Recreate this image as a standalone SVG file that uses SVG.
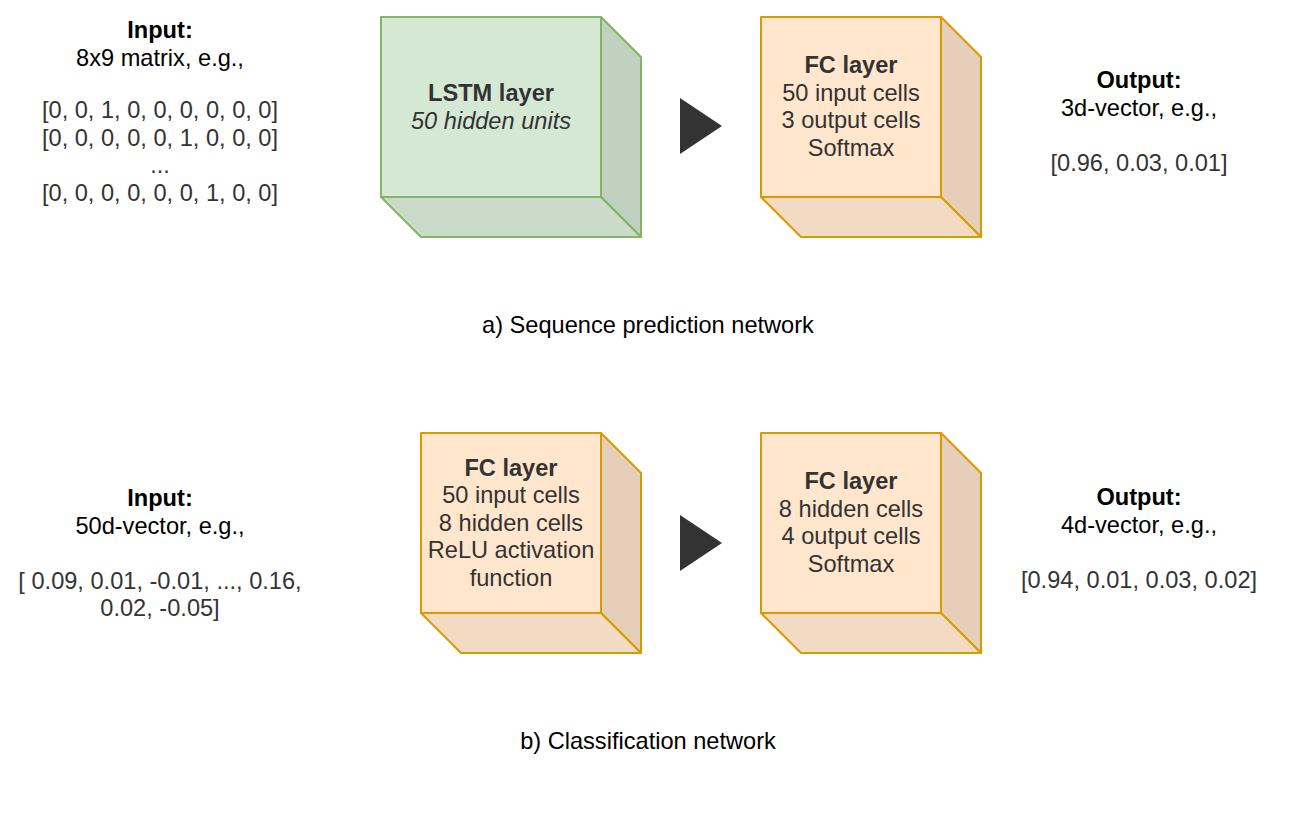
<svg xmlns="http://www.w3.org/2000/svg" width="1302" height="816" viewBox="0 0 1302 816">
<style>
text{font-family:"Liberation Sans",Arial,Helvetica,sans-serif;font-size:23.6px;text-anchor:middle}
.b{font-weight:bold}
.i{font-style:italic}
.k{fill:#000}
.g{fill:#333}
.gf{fill:#d5e8d4;stroke:#82b366;stroke-width:2;stroke-linejoin:round}
.gr{fill:#c0d1bf;stroke:#82b366;stroke-width:2;stroke-linejoin:round}
.gb{fill:#cadcc9;stroke:#82b366;stroke-width:2;stroke-linejoin:round}
.of{fill:#ffe6cc;stroke:#d79b00;stroke-width:2;stroke-linejoin:round}
.or{fill:#e6cfb8;stroke:#d79b00;stroke-width:2;stroke-linejoin:round}
.ob{fill:#f2dbc2;stroke:#d79b00;stroke-width:2;stroke-linejoin:round}
.arr{fill:#333}
</style>
<defs>
<g id="cubeO">
<polygon class="or" points="180,0 220,40 220,220 180,180"/>
<polygon class="ob" points="0,180 180,180 220,220 40,220"/>
<rect class="of" x="0" y="0" width="180" height="180"/>
</g>
</defs>
<rect width="1302" height="816" fill="#fff"/>

<g id="input-a">
<text x="160" y="38" class="b k">Input:</text>
<text x="160" y="65.6" class="k">8x9 matrix, e.g.,</text>
<text x="160" y="118" class="g">[0, 0, 1, 0, 0, 0, 0, 0, 0]</text>
<text x="160" y="145.6" class="g">[0, 0, 0, 0, 0, 1, 0, 0, 0]</text>
<text x="160" y="173.2" class="g">...</text>
<text x="160" y="200.8" class="g">[0, 0, 0, 0, 0, 0, 1, 0, 0]</text>
</g>

<g id="lstm">
<polygon class="gr" points="601,17 641,57 641,237 601,197"/>
<polygon class="gb" points="381,197 601,197 641,237 421,237"/>
<rect class="gf" x="381" y="17" width="220" height="180"/>
<text x="491" y="101.4" class="b g">LSTM layer</text>
<text x="491" y="129" class="i g">50 hidden units</text>
</g>

<g id="fc-a">
<use href="#cubeO" x="761" y="17"/>
<text x="851" y="73" class="b g">FC layer</text>
<text x="851" y="100.6" class="g">50 input cells</text>
<text x="851" y="128.2" class="g">3 output cells</text>
<text x="851" y="155.8" class="g">Softmax</text>
</g>

<g id="output-a">
<text x="1139" y="88" class="b k">Output:</text>
<text x="1139" y="115.6" class="k">3d-vector, e.g.,</text>
<text x="1139" y="170.8" class="g">[0.96, 0.03, 0.01]</text>
</g>

<g id="caption-a">
<text x="648" y="333" class="k">a) Sequence prediction network</text>
</g>

<g id="input-b">
<text x="160" y="506" class="b k">Input:</text>
<text x="160" y="533.6" class="k">50d-vector, e.g.,</text>
<text x="160" y="588.8" class="g">[ 0.09, 0.01, -0.01, ..., 0.16,</text>
<text x="160" y="616.4" class="g">0.02, -0.05]</text>
</g>

<g id="fc-b1">
<use href="#cubeO" x="421" y="433"/>
<text x="511" y="475.5" class="b g">FC layer</text>
<text x="511" y="503.1" class="g">50 input cells</text>
<text x="511" y="530.7" class="g">8 hidden cells</text>
<text x="511" y="558.3" class="g">ReLU activation</text>
<text x="511" y="585.9" class="g">function</text>
</g>

<g id="fc-b2">
<use href="#cubeO" x="761" y="433"/>
<text x="851" y="489" class="b g">FC layer</text>
<text x="851" y="516.6" class="g">8 hidden cells</text>
<text x="851" y="544.2" class="g">4 output cells</text>
<text x="851" y="571.8" class="g">Softmax</text>
</g>

<g id="output-b">
<text x="1139" y="505" class="b k">Output:</text>
<text x="1139" y="532.6" class="k">4d-vector, e.g.,</text>
<text x="1139" y="588" class="g">[0.94, 0.01, 0.03, 0.02]</text>
</g>

<g id="caption-b">
<text x="648" y="749" class="k">b) Classification network</text>
</g>

<g id="connectors">
<polygon class="arr" points="680,98 722,126 680,154"/>
<polygon class="arr" points="680,515 722,543 680,571"/>
</g>
</svg>
